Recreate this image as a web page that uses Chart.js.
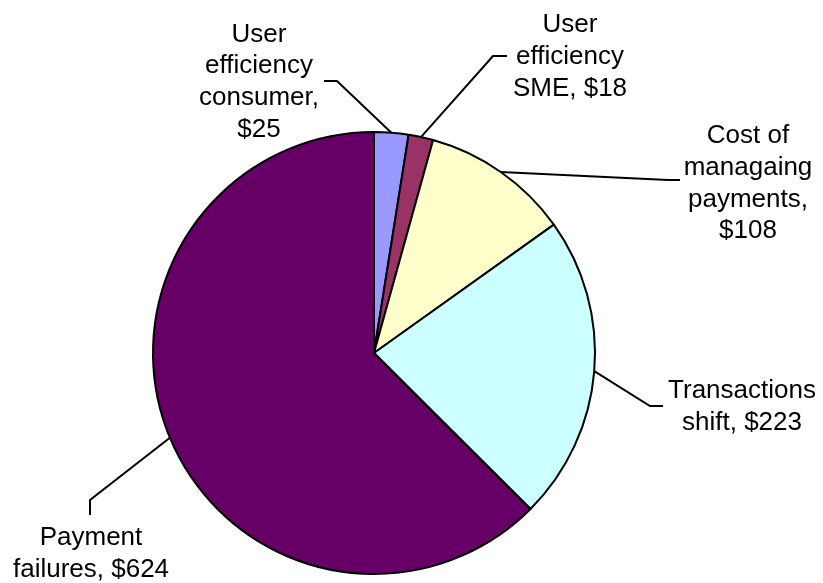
<!DOCTYPE html>
<html>
<head>
<meta charset="utf-8">
<script src="https://cdn.jsdelivr.net/npm/chart.js@4/dist/chart.umd.min.js"></script>
<style>
  html, body { margin: 0; padding: 0; background: #ffffff; }
  #wrap { width: 823px; height: 583px; }
</style>
</head>
<body>
<div id="wrap"><canvas id="chart" width="823" height="583"></canvas></div>
<script>
// Cost categories and their values ($)
const categories = [
  'User efficiency consumer',
  'User efficiency SME',
  'Cost of managaing payments',
  'Transactions shift',
  'Payment failures'
];
const values = [25, 18, 108, 223, 624];
const sliceColors = ['#9999FF', '#993366', '#FFFFCC', '#CCFFFF', '#660066'];

// Label placement: elbow of the leader, end of the leader, text centre x and first baseline
const labelLayout = [
  { elbow: [337, 81],  end: [324, 81],  textX: 259, baseY: 41.5 },
  { elbow: [493, 56],  end: [507, 56],  textX: 570, baseY: 32 },
  { elbow: [668, 180], end: [680, 180], textX: 748, baseY: 143 },
  { elbow: [650, 406], end: [663, 406], textX: 742, baseY: 398 },
  { elbow: [90, 500],  end: [90, 515],  textX: 91,  baseY: 545 }
];
const LABEL_FONT = '26px "Liberation Sans", Arial, sans-serif';
const LINE_STEP = 31.8;
const WRAP_WIDTH = 164;

function wrapText(ctx, text, maxWidth) {
  const words = text.split(' ');
  const lines = [];
  let cur = '';
  words.forEach(w => {
    const test = cur ? cur + ' ' + w : w;
    if (cur && ctx.measureText(test).width > maxWidth) {
      lines.push(cur);
      cur = w;
    } else {
      cur = test;
    }
  });
  if (cur) lines.push(cur);
  return lines;
}

// Draws leader lines from each slice edge and the wrapped "name, $value" labels
const leaderLabels = {
  id: 'leaderLabels',
  afterDatasetsDraw(chart) {
    const ctx = chart.ctx;
    const meta = chart.getDatasetMeta(0);
    ctx.save();
    ctx.font = LABEL_FONT;
    meta.data.forEach((arc, i) => {
      const lay = labelLayout[i];
      const p = arc.getProps(['x', 'y', 'startAngle', 'endAngle', 'outerRadius'], true);
      const mid = (p.startAngle + p.endAngle) / 2;
      const ex = p.x + Math.cos(mid) * p.outerRadius;
      const ey = p.y + Math.sin(mid) * p.outerRadius;

      ctx.beginPath();
      ctx.strokeStyle = '#000000';
      ctx.lineWidth = 2;
      ctx.moveTo(ex, ey);
      ctx.lineTo(lay.elbow[0], lay.elbow[1]);
      ctx.lineTo(lay.end[0], lay.end[1]);
      ctx.stroke();

      const text = categories[i] + ', $' + chart.data.datasets[0].data[i];
      const lines = wrapText(ctx, text, WRAP_WIDTH);
      ctx.fillStyle = '#000000';
      ctx.textAlign = 'center';
      ctx.textBaseline = 'alphabetic';
      lines.forEach((ln, k) => {
        ctx.fillText(ln, lay.textX, lay.baseY + k * LINE_STEP);
      });
    });
    ctx.restore();
  }
};

new Chart(document.getElementById('chart'), {
  type: 'pie',
  data: {
    labels: categories,
    datasets: [{
      data: values,
      backgroundColor: sliceColors,
      borderColor: '#000000',
      borderWidth: 2,
      hoverOffset: 0
    }]
  },
  options: {
    responsive: false,
    animation: false,
    radius: 221,
    layout: { padding: { left: 0, right: 75, top: 130, bottom: 7 } },
    plugins: {
      legend: { display: false },
      tooltip: { enabled: false }
    }
  },
  plugins: [leaderLabels]
});
</script>
</body>
</html>
